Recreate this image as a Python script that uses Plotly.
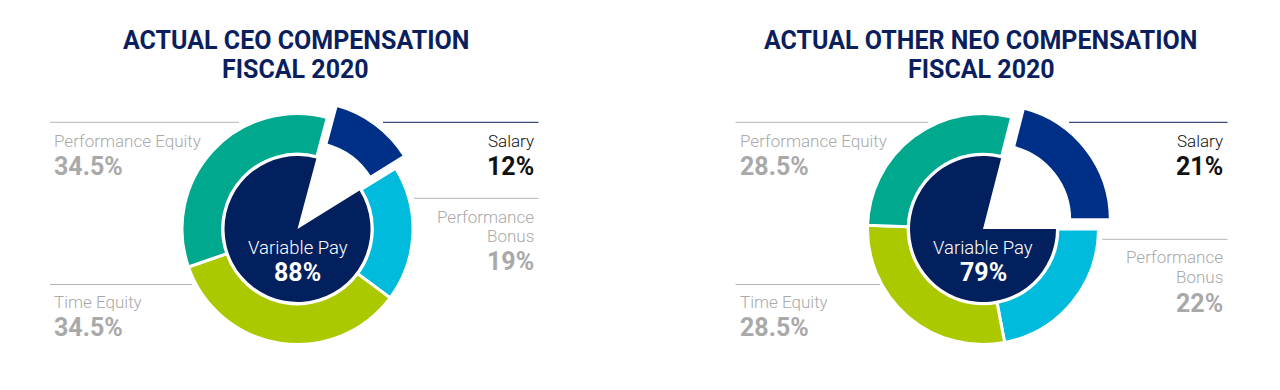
import plotly.graph_objects as go

W, H = 1280, 390

# ---------------- data ----------------
ring_labels = ["Salary", "Performance Bonus", "Time Equity", "Performance Equity"]
ceo_values = [12, 19, 34.5, 34.5]
neo_values = [21, 22, 28.5, 28.5]
inner_labels = ["Variable Pay", "Salary"]
ceo_variable = [88, 12]
neo_variable = [79, 21]
titles = [["ACTUAL CEO COMPENSATION", "FISCAL 2020"],
          ["ACTUAL OTHER NEO COMPENSATION", "FISCAL 2020"]]
ceo_pct_text = ["12%", "19%", "34.5%", "34.5%", "88%"]
neo_pct_text = ["21%", "22%", "28.5%", "28.5%", "79%"]

# ---------------- style ----------------
ring_colors = ["#002f87", "#00bbdc", "#acc900", "#00a98e"]
navy = "#03205e"
title_col = "#0b1f5e"
grey_txt = "#a9a9a9"
grey_line = "#b5b5b5"
FONT = "Roboto"

R = 115.5          # outer radius px (incl. white stroke)
HOLE = 0.648
PULL = 0.13
R_IN = 73

charts = [
    dict(cx=297.5, cy=229, rot=15, vals=ceo_values, inner=ceo_variable, pct=ceo_pct_text,
         title=titles[0], tcx=295.5, pb_y=(216.3, 234.7, 261.3), pb_line=198.3,
         pe_line_end=-58.5, te_line_end=-105.5, sal_line_start=85.5, pb_line_start=116.5,
         right_rel=238.5),
    dict(cx=983, cy=229, rot=14.4, vals=neo_values, inner=neo_variable, pct=neo_pct_text,
         title=titles[1], tcx=981, pb_y=(256.7, 276, 302.5), pb_line=239.3,
         pe_line_end=-55, te_line_end=-103, sal_line_start=86, pb_line_start=119,
         right_rel=242),
]


def dom(cx, cy, half):
    return dict(x=[(cx - half) / W, (cx + half) / W],
                y=[1 - (cy + half) / H, 1 - (cy - half) / H])


fig = go.Figure()
annotations = []
shapes = []


def ann(x, y, text, size, color, weight=400, xanchor="left"):
    annotations.append(dict(x=x / W, y=1 - y / H, xref="paper", yref="paper", text=text,
                            showarrow=False, xanchor=xanchor, yanchor="middle",
                            font=dict(family=FONT, size=size, color=color, weight=weight)))


def hline(x0, x1, y, color):
    shapes.append(dict(type="line", xref="paper", yref="paper", x0=x0 / W, x1=x1 / W,
                       y0=1 - y / H, y1=1 - y / H, line=dict(color=color, width=1)))


for c in charts:
    cx, cy = c["cx"], c["cy"]
    fig.add_trace(go.Pie(
        labels=ring_labels, values=c["vals"], sort=False, direction="clockwise",
        rotation=c["rot"], hole=HOLE, pull=[PULL, 0, 0, 0],
        marker=dict(colors=ring_colors, line=dict(color="white", width=3)),
        textinfo="none", hoverinfo="label+percent", showlegend=False,
        domain=dom(cx, cy, R * (1 + PULL))))
    fig.add_trace(go.Pie(
        labels=inner_labels, values=c["inner"], sort=False, direction="clockwise",
        rotation=c["rot"] + 360 * c["inner"][1] / sum(c["inner"]),
        marker=dict(colors=[navy, "rgba(0,0,0,0)"], line=dict(color="white", width=0)),
        textinfo="none", hoverinfo="label+percent", showlegend=False,
        domain=dom(cx, cy, R_IN)))

    # title
    ann(c["tcx"], 41, "<b>%s</b>" % c["title"][0], 25, title_col, 700, "center")
    ann(c["tcx"], 69.5, "<b>%s</b>" % c["title"][1], 25, title_col, 700, "center")

    left = cx - 245.5
    right = cx + c["right_rel"]
    # Performance Equity
    hline(cx - 247.5, cx + c["pe_line_end"], 122.3, grey_line)
    ann(left, 141.3, ring_labels[3], 17, grey_txt, 300)
    ann(left, 166.3, "<b>%s</b>" % c["pct"][3], 25, grey_txt, 700)
    # Time Equity
    hline(cx - 247.5, cx + c["te_line_end"], 284.5, grey_line)
    ann(left, 302.2, ring_labels[2], 17, grey_txt, 300)
    ann(left, 327.3, "<b>%s</b>" % c["pct"][2], 25, grey_txt, 700)
    # Salary
    hline(cx + c["sal_line_start"], cx + c["right_rel"] + 2.5, 122.3, title_col)
    ann(right, 140.8, ring_labels[0], 17, "#111111", 300, "right")
    ann(right, 166.8, "<b>%s</b>" % c["pct"][0], 25, "#111111", 700, "right")
    # Performance Bonus
    hline(cx + c["pb_line_start"], cx + c["right_rel"] + 2.5, c["pb_line"], grey_line)
    ann(right, c["pb_y"][0] + 0.3, "Performance", 17, grey_txt, 300, "right")
    ann(right, c["pb_y"][1] + 1.0, "Bonus", 17, grey_txt, 300, "right")
    ann(right, c["pb_y"][2] + 0.6, "<b>%s</b>" % c["pct"][1], 25, grey_txt, 700, "right")
    # Center
    ann(cx, 248.5, inner_labels[0], 18.5, "white", 300, "center")
    ann(cx, 272.5, "<b>%s</b>" % c["pct"][4], 25, "white", 700, "center")

fig.update_layout(width=W, height=H, margin=dict(l=0, r=0, t=0, b=0),
                  paper_bgcolor="white", plot_bgcolor="white",
                  annotations=annotations, shapes=shapes, showlegend=False)

fig.write_html("out.html", config={"displayModeBar": False},
               post_script="document.body.style.margin='0';")
